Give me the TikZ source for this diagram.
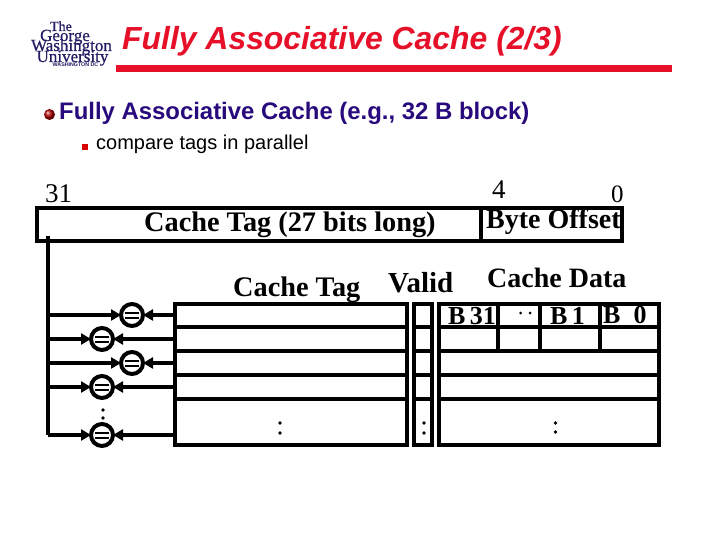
\documentclass[tikz,border=0pt]{standalone}
\usepackage{fontspec}
\setmainfont{Liberation Serif}
\newfontfamily\arialf{Liberation Sans}
\newfontfamily\logof[FakeBold=0.6]{Liberation Serif}
\usetikzlibrary{arrows.meta,shadings}
\definecolor{titlered}{RGB}{230,16,40}
\definecolor{headblue}{RGB}{40,10,125}
\definecolor{logoblue}{RGB}{35,30,100}
\tikzset{
 x=1pt,y=-1pt,
 box/.style={draw=black,line width=4pt,fill=white,inner sep=0pt,outer sep=0pt,anchor=north west},
 rowline/.style={line width=3.6pt,black},
 serifbold/.style={font=\fontsize{28.3}{28}\selectfont\bfseries,inner sep=0pt,anchor=base west},
 smallbold/.style={font=\fontsize{26}{26}\selectfont\bfseries,inner sep=0pt,anchor=base west},
 serifnum/.style={font=\fontsize{27}{27}\selectfont,inner sep=0pt,anchor=base west},
 cmp/.style={circle,draw=black,line width=4pt,fill=white,minimum size=22pt,inner sep=0pt,outer sep=0pt},
 conn/.style={line width=3.6pt,-{Triangle[length=10pt,width=11pt]}},
 logotext/.style={text=logoblue,inner sep=0pt,anchor=base,font=\fontsize{17}{17}\selectfont\logof},
 dotmark/.style={circle,fill=black,minimum size=3.6pt,inner sep=0pt},
}
\begin{document}
\begin{tikzpicture}
\useasboundingbox[fill=white] (0,0) rectangle (720,540);
% logo
\node[logotext,font=\fontsize{14}{14}\selectfont\logof] (l1) at (61,31) {The};
\node[logotext] (l2) at (65,41) {George};
\node[logotext] (l3) at (71.5,51) {Washington};
\node[logotext] (l4) at (72.5,62) {University};
\node[logotext,font=\fontsize{5.3}{6}\selectfont\bfseries\arialf] (l5) at (75.5,66.5) {WASHINGTON DC};
% title
\node[inner sep=0pt,anchor=base west,text=titlered,font=\fontsize{31.9}{32}\selectfont\arialf\bfseries\itshape] (title) at (122,50) {Fully Associative Cache (2/3)};
\fill[titlered] (116,65) rectangle (672,72);
% bullets
\shade[ball color=red!70!black] (49.5,114.5) circle (5.5);
\node[inner sep=0pt,anchor=base west,text=headblue,font=\fontsize{23.9}{24}\selectfont\arialf\bfseries] (h1) at (59,120) {Fully Associative Cache (e.g., 32 B block)};
\fill[red!85!black] (82,144) rectangle (88,150);
\node[inner sep=0pt,anchor=base west,font=\fontsize{20}{20}\selectfont\arialf] (h2) at (96,150) {compare tags in parallel};
% address
\node[box,minimum width=585pt,minimum height=33pt] (addr) at (37,208) {};
\draw[line width=4pt] (481,208) -- (481,241);
\node[serifnum] (n31) at (45,203) {31};
\node[serifnum] (n4) at (492,199) {4};
\node[serifnum,font=\fontsize{25}{25}\selectfont] (n0) at (611,203) {0};
\node[serifbold] (ct) at (144,231) {Cache Tag (27 bits long)};
\node[serifbold,font=\fontsize{28}{28}\selectfont\bfseries] (bo) at (486,229) {Byte Offset};
% headings
\node[serifbold] (t1) at (233,296) {Cache Tag};
\node[serifbold,font=\fontsize{29}{29}\selectfont\bfseries] (t2) at (388,292) {Valid};
\node[serifbold,font=\fontsize{28}{28}\selectfont\bfseries] (t3) at (487,287) {Cache Data};
% boxes
\node[box,minimum width=232pt,minimum height=141pt] (tag) at (175,304) {};
\node[box,minimum width=18pt,minimum height=141pt] (val) at (414,304) {};
\node[box,minimum width=220pt,minimum height=141pt] (dat) at (439,304) {};
\foreach \y in {327,351,375,399}{
 \draw[rowline] (175,\y) -- (407,\y);
 \draw[rowline] (414,\y) -- (432,\y);
 \draw[rowline] (439,\y) -- (659,\y);
}
\foreach \x in {498,540,600}{\draw[rowline] (\x,304) -- (\x,351);}
% data labels
\node[smallbold] (b31) at (448,324) {B\,31};
\node[smallbold] (b1) at (550,324) {B\,1};
\node[smallbold] (b0) at (603,323) {B\ \ 0};
\node[dotmark,minimum size=3pt] (hd1) at (520.5,313) {};
\node[dotmark,minimum size=3pt] (hd2) at (530,313) {};
% comparators
\node[cmp] (c1) at (132,315) {};
\node[cmp] (c2) at (102,339) {};
\node[cmp] (c3) at (132,363) {};
\node[cmp] (c4) at (102,387) {};
\node[cmp] (c5) at (102,435) {};
\foreach \c in {c1,c2,c3,c4,c5}{
 \draw[line width=2pt] ([xshift=-7pt,yshift=2.5pt]\c.center) -- ([xshift=7pt,yshift=2.5pt]\c.center);
 \draw[line width=2pt] ([xshift=-7pt,yshift=-2.5pt]\c.center) -- ([xshift=7pt,yshift=-2.5pt]\c.center);
}
% bus
\coordinate (bustop) at (47.5,236);
\coordinate (b1c) at (47.5,315);
\coordinate (b2c) at (47.5,339);
\coordinate (b3c) at (47.5,363);
\coordinate (b4c) at (47.5,387);
\coordinate (b5c) at (47.5,435);
\draw[line width=4pt] (bustop) -- (b5c);
\draw[conn] (b1c) -- (c1);
\draw[conn] (b2c) -- (c2);
\draw[conn] (b3c) -- (c3);
\draw[conn] (b4c) -- (c4);
\draw[conn] (b5c) -- (c5);
\coordinate (r1) at (175,315);
\coordinate (r2) at (175,339);
\coordinate (r3) at (175,363);
\coordinate (r4) at (175,387);
\coordinate (r5) at (175,435);
\draw[conn] (r1) -- (c1);
\draw[conn] (r2) -- (c2);
\draw[conn] (r3) -- (c3);
\draw[conn] (r4) -- (c4);
\draw[conn] (r5) -- (c5);
% ellipsis dots
\node[dotmark] (d1) at (103,410) {};
\node[dotmark] (d2) at (103,418) {};
\node[dotmark] (d3) at (280,423) {};
\node[dotmark] (d4) at (280,433) {};
\node[dotmark] (d5) at (424,423) {};
\node[dotmark] (d6) at (424,433) {};
\node[dotmark] (d7) at (555.5,423) {};
\node[dotmark] (d8) at (555.5,432) {};
\end{tikzpicture}
\end{document}
